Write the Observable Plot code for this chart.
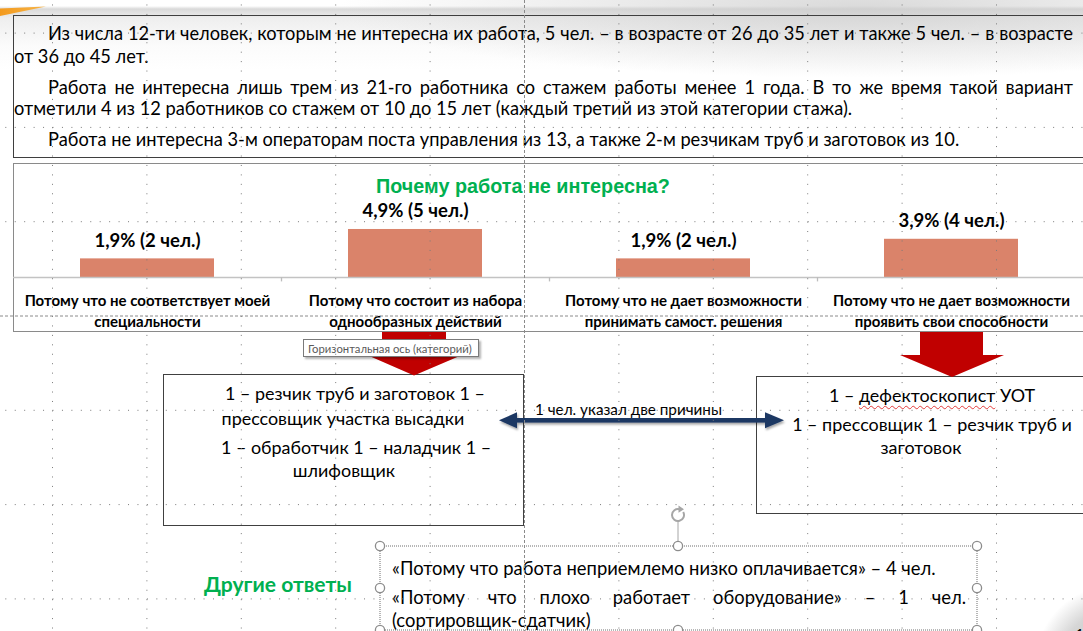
<!DOCTYPE html>
<html><head><meta charset="utf-8">
<script src="https://cdn.jsdelivr.net/npm/d3@7"></script>
<script src="https://cdn.jsdelivr.net/npm/@observablehq/plot@0.6"></script>
<style>
html,body{margin:0;padding:0;background:#fff;}
#slide{position:relative;width:1083px;height:631px;overflow:hidden;font-family:Lato,"Open Sans",sans-serif;color:#000;
 background:
  radial-gradient(circle at 1115px 665px, #bdbdbd 0px, #d6d6d6 55px, rgba(255,255,255,0) 80px),
  radial-gradient(ellipse 520px 70px at 860px 8px, rgba(205,205,205,0.75), rgba(255,255,255,0)),
  linear-gradient(180deg, #fff 0px, #fff 6px, #d9d9d9 9px, #eeeeee 18px, #fbfbfb 45px, #fff 70px);}
.t{position:absolute;white-space:nowrap;line-height:1.2;}
.box{position:absolute;box-sizing:border-box;}
</style></head><body><div id="slide"></div>
<script>
// ---------- data ----------
const chartTitle = "Почему работа не интересна?";
const categories = [
  "Потому что не соответствует моей\nспециальности",
  "Потому что состоит из набора\nоднообразных действий",
  "Потому что не дает возможности\nпринимать самост. решения",
  "Потому что не дает возможности\nпроявить свои способности"
];
const percents = [1.9, 4.9, 1.9, 3.9];
const people = [2, 5, 2, 4];

const topLines = [
  "Из числа 12-ти человек, которым не интересна их работа, 5 чел. – в возрасте от 26 до 35 лет и также 5 чел. – в возрасте",
  "от 36 до 45 лет.",
  "Работа не интересна лишь трем из 21-го работника со стажем работы менее 1 года. В то же время такой вариант",
  "отметили 4 из 12 работников со стажем от 10 до 15 лет (каждый третий из этой категории стажа).",
  "Работа не интересна 3-м операторам поста управления из 13, а также 2-м резчикам труб и заготовок из 10."
];
const leftBoxLines = [
  "1 – резчик труб и заготовок 1 –",
  "прессовщик участка высадки",
  "1 – обработчик 1 – наладчик 1 –",
  "шлифовщик"
];
const rightBoxLines = [
  "1 – <span class='wavy'>дефектоскопист</span> УОТ",
  "1 – прессовщик 1 – резчик труб и",
  "заготовок"
];
const arrowLabel = "1 чел. указал две причины";
const tooltipText = "Горизонтальная ось (категорий)";
const otherTitle = "Другие ответы";
const otherLines = [
  "«Потому что работа неприемлемо низко оплачивается» – 4 чел.",
  "«Потому что плохо работает оборудование» – 1 чел.",
  "(сортировщик-сдатчик)"
];

// ---------- helpers ----------
const slide = document.getElementById('slide');
const FONT = 'Lato, "Open Sans", sans-serif';
const ARIAL = '"Liberation Sans", Arial, sans-serif';
const VC = 0.55;
function box(css){ const e=document.createElement('div'); e.className='box'; Object.assign(e.style,css); slide.appendChild(e); return e; }
function mk(s, o={}){
  const e=document.createElement('div'); e.className='t';
  Object.assign(e.style,{fontSize:(o.size||16)+'px', fontWeight:o.weight||'normal', color:o.color||'#000', fontFamily:o.family||FONT, left:'0px', top:'0px'});
  if(o.html) e.innerHTML=s; else e.textContent=s;
  slide.appendChild(e); return e;
}
const W = e => e.getBoundingClientRect().width;
function fitTo(e, target){ const fs=parseFloat(e.style.fontSize); const s=fs*target/W(e); e.style.fontSize=s+'px'; return s; }
function place(e, p){
  const fs=parseFloat(e.style.fontSize); const w=W(e); const vc=p.vc||VC;
  const x = p.left!=null ? p.left : p.cx - w/2;
  e.style.left=x+'px'; e.style.top=(p.cy - vc*fs)+'px';
}
function justify(e, left, right, cy){
  const fs=parseFloat(e.style.fontSize); const w=W(e); const Wd=right-left; const n=e.textContent.length;
  if(w > Wd-2) e.style.letterSpacing=((Wd-2-w)/n)+'px';
  e.style.whiteSpace='normal'; e.style.width=Wd+'px'; e.style.textAlign='justify'; e.style.textAlignLast='justify';
  e.style.left=left+'px'; e.style.top=(cy-VC*fs)+'px';
}

// ---------- boxes ----------
box({left:'13px',top:'15px',width:'1100px',height:'143px',border:'1.5px solid #3f3f3f'});
box({left:'13px',top:'163px',width:'1100px',height:'169px',border:'1.5px solid #8a8a8a',background:'#fff'});

// ---------- chart (Plot) ----------
const data = categories.map((c,i)=>({cat:c, pct:percents[i], n:people[i],
  label:`${String(percents[i]).replace('.',',')}% (${people[i]} чел.)`}));
const chart = Plot.plot({
  width:1072, height:168, marginLeft:0, marginRight:0, marginTop:65, marginBottom:54,
  style:{background:'transparent', fontFamily:FONT, overflow:'visible'},
  x:{domain:categories, paddingInner:0.5, paddingOuter:0.25, axis:null},
  y:{domain:[0,5], axis:null},
  marks:[
    Plot.barY(data,{x:'cat', y:'pct', fill:'#DA836A'}),
    Plot.ruleY([0],{stroke:'#c3c3c3', strokeWidth:1.3}),
    Plot.ruleX(categories.slice(1),{x:d=>d, y1:0, y2:-0.45, dx:-134, stroke:'#bdbdbd', strokeWidth:1.3}),
    Plot.text(data,{x:'cat', y:'pct', text:'label', dy:-18, fontSize:18.5, fontWeight:'bold', fill:'#000'}),
    Plot.text(data,{x:'cat', y:()=>0, text:'cat', dy:32, fontSize:15, fontWeight:'bold', lineHeight:1.4, fill:'#000'})
  ]
});
const cw = document.createElement('div');
Object.assign(cw.style,{position:'absolute',left:'13px',top:'163px',width:'1072px',height:'168px'});
cw.appendChild(chart); slide.appendChild(cw);

// left / right boxes
box({left:'163px',top:'374px',width:'361px',height:'152px',border:'1.3px solid #404040',background:'#fff'});
box({left:'756px',top:'376px',width:'400px',height:'138px',border:'1.3px solid #404040',background:'#fff'});

// ---------- decorations ----------
const deco = document.createElementNS('http://www.w3.org/2000/svg','svg');
deco.setAttribute('width','1083'); deco.setAttribute('height','631');
Object.assign(deco.style,{position:'absolute',left:'0',top:'0',overflow:'visible'});
deco.innerHTML = `
<defs>
 <linearGradient id="og" x1="0" x2="1"><stop offset="0" stop-color="#f39a1d"/><stop offset="1" stop-color="#f7b447"/></linearGradient>
 <filter id="sh" x="-10%" y="-80%" width="120%" height="260%"><feDropShadow dx="1" dy="2" stdDeviation="1.3" flood-color="#000" flood-opacity="0.35"/></filter>
</defs>
<polygon points="0,8.5 46,6.5 0,16" fill="url(#og)"/>
<polygon points="382,332 446,332 446,355 462,355 414,375.5 367,355 382,355" fill="#C00000"/>
<polygon points="920,332 983,332 983,355 1004,355 952,377 900,355 920,355" fill="#C00000"/>
<g filter="url(#sh)" fill="#1F3864">
 <rect x="514" y="418" width="254" height="4.6"/>
 <polygon points="499,420.3 517,412.3 517,428.3"/>
 <polygon points="784,420.3 765,412.3 765,428.3"/>
</g>
<g stroke="#a6a6a6" fill="none">
 <path d="M 683.2 512 A 6 6 0 1 1 679.6 509.2" stroke-width="2"/>
 <line x1="678" y1="522" x2="678" y2="546" stroke-width="1"/>
</g>
<polygon points="678.5,505.5 684,509.3 678.5,512.8" fill="#a6a6a6"/>
<rect x="380" y="546" width="597" height="84" fill="#fff" stroke="#6f6f6f" stroke-width="1" stroke-dasharray="1 1"/>
`;
slide.appendChild(deco);

// tooltip
box({left:'303px',top:'339px',width:'176px',height:'18px',border:'1px solid #7a7a7a',background:'#fff',boxShadow:'2px 2px 2px rgba(0,0,0,0.3)'});

// ---------- texts ----------
const tl = topLines.map(s=>mk(s,{size:16}));
const topSize = fitTo(tl[4], 912);
tl.forEach(e=>e.style.fontSize=topSize+'px');
justify(tl[0], 48, 1073, 33);
place(tl[1], {left:14, cy:56});
justify(tl[2], 48, 1073, 87);
place(tl[3], {left:14, cy:108});
place(tl[4], {left:48, cy:139});

const title = mk(chartTitle,{size:18, weight:'bold', color:'#00B050', family:ARIAL});
fitTo(title, 294); place(title,{cx:523, cy:186, vc:0.55});

const lb = leftBoxLines.map(s=>mk(s,{size:17}));
const lbs = fitTo(lb[1], 243); lb.forEach(e=>e.style.fontSize=lbs+'px');
[355,343,356,344].forEach((cx,i)=>place(lb[i],{cx, cy:[393,418,447,470][i]}));

const rb = rightBoxLines.map(s=>mk(s,{size:17, html:true}));
const rbs = fitTo(rb[1], 280); rb.forEach(e=>e.style.fontSize=rbs+'px');
[932,932,921].forEach((cx,i)=>place(rb[i],{cx, cy:[395,424,447][i]}));
document.querySelectorAll('.wavy').forEach(s=>{ s.style.textDecoration='underline wavy #e23b3b'; s.style.textDecorationThickness='1px'; s.style.textUnderlineOffset='3px'; });

const al = mk(arrowLabel,{size:13}); fitTo(al, 187); place(al,{left:535, cy:408});
const tt = mk(tooltipText,{size:11, color:'#5a5a5a'}); fitTo(tt, 164); place(tt,{left:308, cy:348});
const ot = mk(otherTitle,{size:17, weight:'bold', color:'#00B050'}); fitTo(ot, 148); place(ot,{left:204, cy:583});

const ol = otherLines.map(s=>mk(s,{size:16}));
const ols = fitTo(ol[0], 544); ol.forEach(e=>e.style.fontSize=ols+'px');
place(ol[0],{left:392, cy:567});
justify(ol[1], 392, 966, 596);
place(ol[2],{left:392, cy:619});

const pg = mk("1",{size:16}); place(pg,{left:1075, cy:633});

// handles of selected text box + grid overlay
const ov = document.createElementNS('http://www.w3.org/2000/svg','svg');
ov.setAttribute('width','1083'); ov.setAttribute('height','631');
Object.assign(ov.style,{position:'absolute',left:'0',top:'0',pointerEvents:'none'});
let g = '';
[[380,546],[678,546],[977,546],[380,588],[977,588],[380,630],[678,630],[977,630]].forEach(([x,y])=>{
  g += `<circle cx="${x}" cy="${y}" r="4.6" fill="#fff" stroke="#8c8c8c" stroke-width="1.3"/>`;
});
for(let k=-5;k<=5;k++){
  const x = 524.5 + 94.4*k;
  g += k===0 ? `<line x1="${x}" x2="${x}" y1="0" y2="631" stroke="#8a8a8a" stroke-width="1" stroke-dasharray="3 2"/>`
             : `<line x1="${x}" x2="${x}" y1="${316-94.4*4}" y2="700" stroke="#7a7a7a" stroke-width="1" stroke-dasharray="1 8.44"/>`;
}
for(let k=-3;k<=3;k++){
  const y = 316 + 94.3*k;
  g += k===0 ? `<line x1="0" x2="1083" y1="${y}" y2="${y}" stroke="#8a8a8a" stroke-width="1" stroke-dasharray="3 2"/>`
             : `<line x1="${524.5-94.4*6}" x2="1100" y1="${y}" y2="${y}" stroke="#7a7a7a" stroke-width="1" stroke-dasharray="1 8.44"/>`;
}
ov.innerHTML = g;
slide.appendChild(ov);
</script></body></html>
